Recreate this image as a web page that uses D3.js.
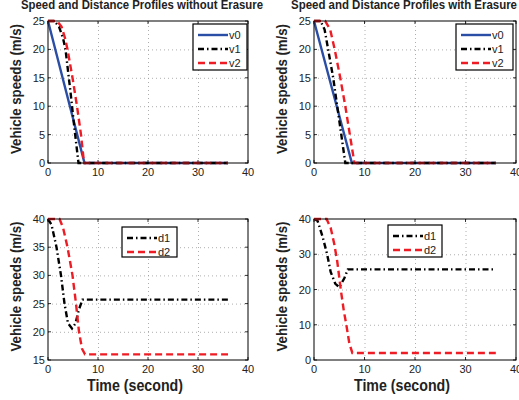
<!DOCTYPE html>
<html>
<head>
<meta charset="utf-8">
<script src="https://cdn.jsdelivr.net/npm/d3@7"></script>
<style>
  body { margin: 0; background: #fff; }
  svg { display: block; font-family: "Liberation Sans", Arial, sans-serif; }
  .tick-lbl { font-size: 11px; fill: #222; }
  .grid line { stroke: #9a9a9a; stroke-width: 0.8; stroke-dasharray: 1,3; }
</style>
</head>
<body>
<svg id="chart" width="519" height="400"></svg>
<script>
// ---- data: [time (s), value] ----
var v0NoErasure = [[0, 25], [7.3, 0], [36, 0]];
var v1NoErasure = [[0, 25], [1.3, 25], [2.2, 24], [3, 22], [3.5, 20], [4.5, 12.5], [5.3, 6], [6.1, 0], [36, 0]];
var v2NoErasure = [[0, 25], [1.8, 25], [2.7, 24], [3.4, 22], [3.9, 20], [4.9, 15], [5.8, 10], [6.6, 5], [7.2, 0], [36, 0]];

var v0Erasure = [[0, 25], [7.5, 0], [36, 0]];
var v1Erasure = [[0, 25], [1.3, 25], [2.1, 23.5], [2.8, 20], [3.8, 15], [4.6, 10], [5.4, 5], [6.2, 0], [36, 0]];
var v2Erasure = [[0, 25], [2.2, 25], [3.2, 23.5], [4.1, 20], [5.2, 15], [6.2, 10], [7.1, 5], [8.0, 0], [36, 0]];

var d1NoErasure = [[0, 40], [0.7, 39], [1.7, 35], [2.6, 30], [3.3, 25], [4, 21.5], [4.8, 20.6], [5.5, 21.5], [6.2, 24], [6.9, 25.7], [36, 25.7]];
var d2NoErasure = [[0, 40], [2.3, 40], [3, 38.5], [3.9, 35], [4.9, 30], [5.6, 25], [6.2, 20], [6.8, 17], [7.4, 16], [36, 16]];

var d1Erasure = [[0, 40], [0.7, 39.5], [1.7, 35], [2.6, 30], [3.3, 25], [4.2, 21.7], [5, 20.6], [6, 23.2], [6.7, 25.7], [36, 25.7]];
var d2Erasure = [[0, 40], [2.5, 40], [3.3, 37.5], [4, 33], [4.6, 28], [5.3, 20], [5.9, 14], [6.4, 10], [7, 4.7], [7.6, 2], [36, 2]];

var xTicks = [0, 10, 20, 30, 40];
var speedTicks = [0, 5, 10, 15, 20, 25];
var distTicksNoErasure = [15, 20, 25, 30, 35, 40];
var distTicksErasure = [0, 10, 20, 30, 40];

var titles = ["Speed and Distance Profiles without Erasure", "Speed and Distance Profiles with Erasure"];
var yLabel = "Vehicle speeds (m/s)";
var xLabel = "Time (second)";

// line styles
var styles = {
    v0: {color: "#2a4ea6", dash: null},
    v1: {color: "#000000", dash: "6,3,1.5,3"},
    v2: {color: "#ee1c24", dash: "7,4"},
    d1: {color: "#000000", dash: "6,3,1.5,3"},
    d2: {color: "#ee1c24", dash: "7,4"}
};

var panels = [
    {l: 48, r: 248, t: 21, b: 163, y: [0, 25], yt: speedTicks, title: titles[0], xlab: false,
        series: [["v0", v0NoErasure], ["v1", v1NoErasure], ["v2", v2NoErasure]],
        leg: {x: 193, y: 24, w: 54, h: 46}},
    {l: 314, r: 516, t: 21, b: 163, y: [0, 25], yt: speedTicks, title: titles[1], xlab: false,
        series: [["v0", v0Erasure], ["v1", v1Erasure], ["v2", v2Erasure]],
        leg: {x: 456, y: 24, w: 57, h: 46}},
    {l: 48, r: 248, t: 219, b: 360, y: [15, 40], yt: distTicksNoErasure, title: null, xlab: true,
        series: [["d1", d1NoErasure], ["d2", d2NoErasure]],
        leg: {x: 122, y: 227, w: 55, h: 30}},
    {l: 314, r: 516, t: 219, b: 360, y: [0, 40], yt: distTicksErasure, title: null, xlab: true,
        series: [["d1", d1Erasure], ["d2", d2Erasure]],
        leg: {x: 388, y: 225, w: 54, h: 32}}
];

var svg = d3.select("#chart");

panels.forEach(function (p) {
    var x = d3.scaleLinear().domain([0, 40]).range([p.l, p.r]);
    var y = d3.scaleLinear().domain(p.y).range([p.b, p.t]);
    var g = svg.append("g");

    // grid
    g.append("g").attr("class", "grid")
        .attr("transform", "translate(0," + p.b + ")")
        .call(d3.axisBottom(x).tickValues(xTicks.slice(1, -1)).tickSize(-(p.b - p.t)).tickFormat(""))
        .call(function (s) { s.select(".domain").remove(); });
    g.append("g").attr("class", "grid")
        .attr("transform", "translate(" + p.l + ",0)")
        .call(d3.axisLeft(y).tickValues(p.yt.slice(1, -1)).tickSize(-(p.r - p.l)).tickFormat(""))
        .call(function (s) { s.select(".domain").remove(); });

    // inner ticks
    var tk = g.append("g").attr("stroke", "#000").attr("stroke-width", 0.8);
    xTicks.forEach(function (t) {
        tk.append("line").attr("x1", x(t)).attr("x2", x(t)).attr("y1", p.b).attr("y2", p.b - 3);
        tk.append("line").attr("x1", x(t)).attr("x2", x(t)).attr("y1", p.t).attr("y2", p.t + 3);
    });
    p.yt.forEach(function (t) {
        tk.append("line").attr("x1", p.l).attr("x2", p.l + 3).attr("y1", y(t)).attr("y2", y(t));
        tk.append("line").attr("x1", p.r).attr("x2", p.r - 3).attr("y1", y(t)).attr("y2", y(t));
    });

    // tick labels
    g.append("g").selectAll("text").data(xTicks).enter().append("text")
        .attr("class", "tick-lbl")
        .attr("x", function (d) { return x(d); })
        .attr("y", p.b + 13)
        .attr("text-anchor", "middle")
        .text(function (d) { return d; });
    g.append("g").selectAll("text").data(p.yt).enter().append("text")
        .attr("class", "tick-lbl")
        .attr("x", p.l - 3)
        .attr("y", function (d) { return y(d) + 4; })
        .attr("text-anchor", "end")
        .text(function (d) { return d; });

    // lines
    var line = d3.line()
        .x(function (d) { return x(d[0]); })
        .y(function (d) { return y(d[1]); });
    p.series.forEach(function (s) {
        var st = styles[s[0]];
        g.append("path")
            .datum(s[1])
            .attr("d", line)
            .attr("fill", "none")
            .attr("stroke", st.color)
            .attr("stroke-width", 2.4)
            .attr("stroke-dasharray", st.dash);
    });

    // box
    g.append("rect")
        .attr("x", p.l).attr("y", p.t)
        .attr("width", p.r - p.l).attr("height", p.b - p.t)
        .attr("fill", "none").attr("stroke", "#000").attr("stroke-width", 1);

    // legend
    var lg = g.append("g");
    lg.append("rect")
        .attr("x", p.leg.x).attr("y", p.leg.y)
        .attr("width", p.leg.w).attr("height", p.leg.h)
        .attr("fill", "#fff").attr("stroke", "#000").attr("stroke-width", 1.2);
    var rowH = p.series.length === 3 ? 14 : 14;
    p.series.forEach(function (s, i) {
        var st = styles[s[0]];
        var ry = p.leg.y + 11 + i * rowH;
        lg.append("line")
            .attr("x1", p.leg.x + 5).attr("x2", p.leg.x + 35)
            .attr("y1", ry).attr("y2", ry)
            .attr("stroke", st.color).attr("stroke-width", 2.4)
            .attr("stroke-dasharray", st.dash);
        lg.append("text")
            .attr("x", p.leg.x + 36).attr("y", ry + 4)
            .attr("font-size", 11).attr("fill", "#222")
            .text(s[0]);
    });

    // y label
    var cy = (p.t + p.b) / 2 - 3;
    g.append("text")
        .attr("transform", "translate(" + (p.l - 27) + "," + cy + ") rotate(-90)")
        .attr("text-anchor", "middle")
        .attr("font-size", 14).attr("font-weight", "bold").attr("fill", "#222")
        .attr("textLength", 130).attr("lengthAdjust", "spacingAndGlyphs")
        .text(yLabel);

    if (p.title) {
        g.append("text")
            .attr("x", (p.l + p.r) / 2 + (p.l < 100 ? -6 : -11))
            .attr("y", 9)
            .attr("text-anchor", "middle")
            .attr("font-size", 12).attr("font-weight", "bold").attr("fill", "#222")
            .attr("textLength", p.l < 100 ? 242 : 226).attr("lengthAdjust", "spacingAndGlyphs")
            .text(p.title);
    }
    if (p.xlab) {
        g.append("text")
            .attr("x", (p.l + p.r) / 2 - 13)
            .attr("y", 391)
            .attr("text-anchor", "middle")
            .attr("font-size", 16).attr("font-weight", "bold").attr("fill", "#222")
            .attr("textLength", 96).attr("lengthAdjust", "spacingAndGlyphs")
            .text(xLabel);
    }
});
</script>
</body>
</html>
